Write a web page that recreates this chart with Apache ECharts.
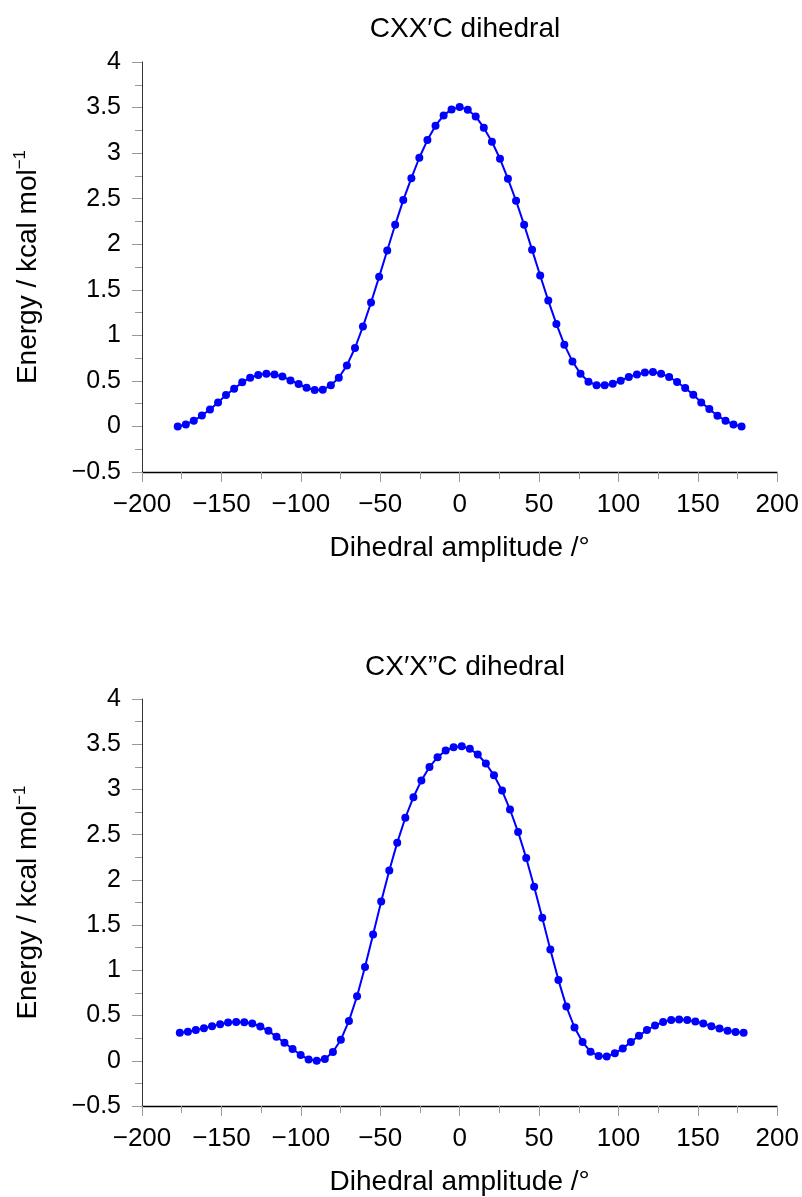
<!DOCTYPE html>
<html>
<head>
<meta charset="utf-8">
<script src="https://cdn.jsdelivr.net/npm/echarts@6/dist/echarts.min.js"></script>
<style>
html,body{margin:0;padding:0;background:#fff;}
#chart{width:802px;height:1197px;}
</style>
</head>
<body>
<div id="chart"></div>
<script>
const titleTop = "CXX\u2032C dihedral";
const titleBottom = "CX\u2032X\u201DC dihedral";
const xName = "Dihedral amplitude /\u00B0";

const anglesTop = [-177.5,-172.4,-167.4,-162.3,-157.2,-152.1,-147.1,-142.0,-136.9,-131.9,-126.8,-121.7,-116.6,-111.6,-106.5,-101.4,-96.4,-91.3,-86.2,-81.1,-76.1,-71.0,-65.9,-60.9,-55.8,-50.7,-45.6,-40.6,-35.5,-30.4,-25.4,-20.3,-15.2,-10.1,-5.1,0,5.1,10.1,15.2,20.3,25.4,30.4,35.5,40.6,45.6,50.7,55.8,60.9,65.9,71.0,76.1,81.1,86.2,91.3,96.4,101.4,106.5,111.6,116.6,121.7,126.8,131.9,136.9,142.0,147.1,152.1,157.2,162.3,167.4,172.4,177.5];
const energyTop = [0.00,0.022,0.063,0.12,0.187,0.264,0.345,0.414,0.484,0.535,0.565,0.579,0.571,0.549,0.505,0.466,0.425,0.40,0.403,0.451,0.535,0.67,0.861,1.096,1.36,1.642,1.931,2.213,2.484,2.725,2.949,3.143,3.301,3.414,3.48,3.505,3.477,3.403,3.279,3.125,2.938,2.718,2.477,2.213,1.938,1.656,1.381,1.125,0.898,0.714,0.579,0.491,0.451,0.451,0.469,0.502,0.543,0.571,0.593,0.598,0.579,0.543,0.488,0.422,0.348,0.264,0.191,0.118,0.063,0.022,0.0];

const anglesBottom = [-176.2,-171.1,-166.1,-161.0,-155.9,-150.8,-145.8,-140.7,-135.6,-130.6,-125.5,-120.4,-115.3,-110.3,-105.2,-100.1,-95.1,-90.0,-84.9,-79.8,-74.8,-69.7,-64.6,-59.6,-54.5,-49.4,-44.3,-39.3,-34.2,-29.1,-24.1,-19.0,-13.9,-8.8,-3.8,1.3,6.4,11.4,16.5,21.6,26.7,31.7,36.8,41.9,46.9,52.0,57.1,62.2,67.2,72.3,77.4,82.4,87.5,92.6,97.7,102.7,107.8,112.9,117.9,123.0,128.1,133.2,138.2,143.3,148.4,153.4,158.5,163.6,168.7,173.7,178.8];
const energyBottom = [0.309,0.321,0.339,0.361,0.383,0.405,0.423,0.430,0.427,0.412,0.379,0.331,0.266,0.2,0.13,0.064,0.013,0.0,0.02,0.097,0.233,0.441,0.713,1.038,1.397,1.76,2.104,2.412,2.687,2.914,3.1,3.247,3.357,3.43,3.467,3.478,3.449,3.386,3.287,3.156,2.987,2.778,2.529,2.243,1.925,1.581,1.229,0.892,0.599,0.368,0.207,0.101,0.053,0.046,0.082,0.137,0.207,0.277,0.339,0.390,0.430,0.452,0.456,0.452,0.434,0.412,0.383,0.357,0.332,0.317,0.309];

const xTicks = {min: -200, max: 200, interval: 50};
const yTicks = {min: -0.5, max: 4, interval: 0.5};

const FONT = "'Liberation Sans', Arial, Helvetica, sans-serif";
const minus = v => String(v).replace('-', '\u2212');

function makeX(gridIndex) {
  return {
    type: 'value', gridIndex,
    min: xTicks.min, max: xTicks.max, interval: xTicks.interval,
    name: xName, nameLocation: 'middle', nameGap: 62,
    nameTextStyle: {fontFamily: FONT, fontSize: 28, color: '#000'},
    axisLine: {show: true, onZero: false, lineStyle: {color: '#000', width: 1.3}},
    axisTick: {show: true, length: 10, lineStyle: {color: '#999', width: 1}},
    minorTick: {show: true, splitNumber: 2, length: 7, lineStyle: {color: '#999', width: 1}},
    axisLabel: {fontFamily: FONT, fontSize: 26, color: '#000', margin: 20, formatter: minus},
    splitLine: {show: false}
  };
}
function makeY(gridIndex) {
  return {
    type: 'value', gridIndex,
    min: yTicks.min, max: yTicks.max, interval: yTicks.interval,
    name: 'Energy / kcal mol{sup|\u22121}', nameLocation: 'middle', nameGap: 98,
    nameTextStyle: {fontFamily: FONT, fontSize: 28, color: '#000',
      rich: {sup: {fontFamily: FONT, fontSize: 17, color: '#000', verticalAlign: 'top', lineHeight: 32}}},
    axisLine: {show: true, onZero: false, lineStyle: {color: '#333', width: 1}},
    axisTick: {show: true, length: 10, lineStyle: {color: '#999', width: 1}},
    minorTick: {show: true, splitNumber: 2, length: 7, lineStyle: {color: '#999', width: 1}},
    axisLabel: {fontFamily: FONT, fontSize: 25, color: '#000', margin: 21, formatter: minus},
    splitLine: {show: false}
  };
}
function makeSeries(xs, ys, idx) {
  return {
    type: 'line', xAxisIndex: idx, yAxisIndex: idx,
    data: xs.map((x, i) => [x, ys[i]]),
    symbol: 'circle', symbolSize: 8, showSymbol: true,
    lineStyle: {color: '#0000ff', width: 2},
    itemStyle: {color: '#0000ff'},
    animation: false
  };
}

const chart = echarts.init(document.getElementById('chart'), null, {renderer: 'canvas'});
chart.setOption({
  backgroundColor: '#fff',
  animation: false,
  title: [
    {text: titleTop, left: 460, top: 10, textAlign: 'center',
     textStyle: {fontFamily: FONT, fontSize: 28, fontWeight: 'normal', color: '#000'}},
    {text: titleBottom, left: 460, top: 648, textAlign: 'center',
     textStyle: {fontFamily: FONT, fontSize: 28, fontWeight: 'normal', color: '#000'}}
  ],
  grid: [
    {left: 142, top: 62, width: 636, height: 410},
    {left: 142, top: 699, width: 636, height: 409}
  ],
  xAxis: [makeX(0), makeX(1)],
  yAxis: [makeY(0), makeY(1)],
  series: [makeSeries(anglesTop, energyTop, 0), makeSeries(anglesBottom, energyBottom, 1)]
});
</script>
</body>
</html>
